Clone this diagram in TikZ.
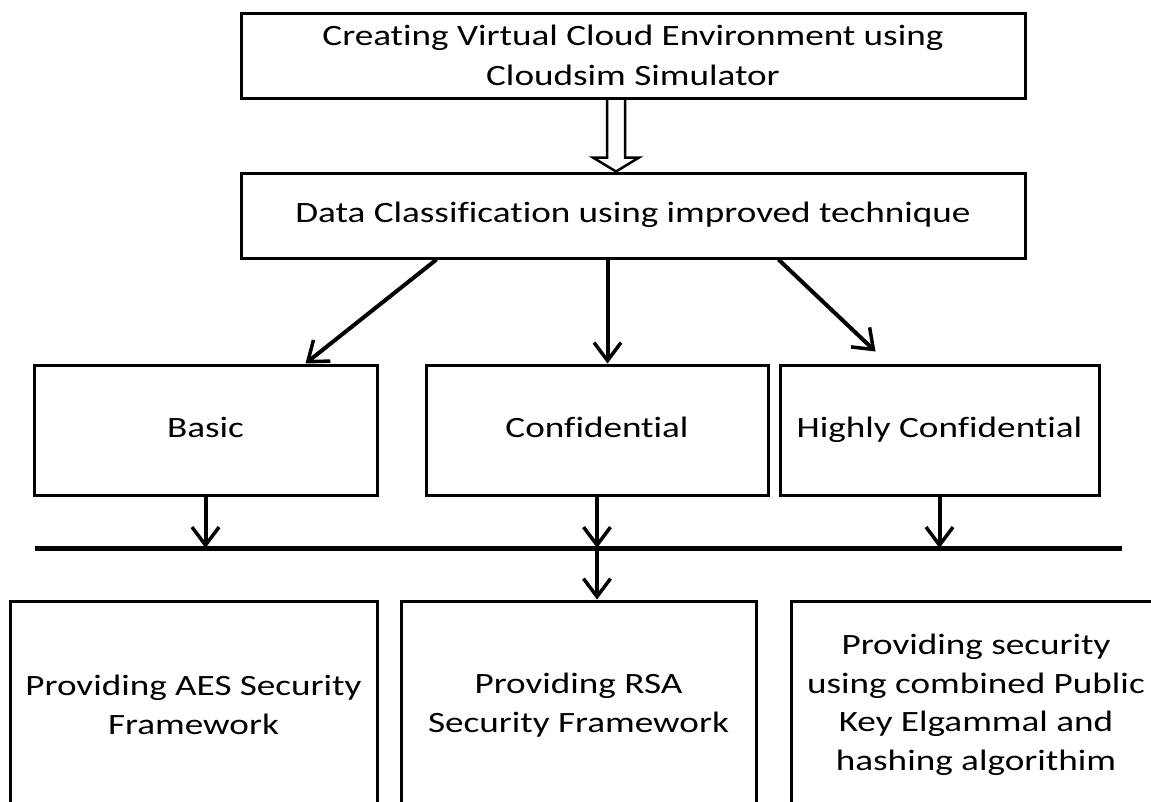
\documentclass[tikz,border=0pt]{standalone}
\usepackage{fontspec}
\setmainfont{Carlito}[FakeStretch=1.26,RawFeature=-liga]
\usetikzlibrary{arrows.meta,calc}
\begin{document}
\begin{tikzpicture}[x=1pt,y=-1pt,
  box/.style={draw, line width=3pt, inner sep=0pt, align=center, font=\fontsize{29.5}{38.5}\selectfont},
  oneline/.style={text height=20pt, text depth=6pt},
  arr/.style={line width=4pt, -{Straight Barb[length=18pt,width=27pt,line width=3.5pt]}},
  bus/.style={line width=5pt},
  hollow/.style={line width=2.5pt, line join=miter}]
\useasboundingbox (0,0) rectangle (1151,801);
\clip (0,0) rectangle (1151,801);
\fill[white] (0,0) rectangle (1151,801);
\node[box, minimum width=784pt, minimum height=85pt, font=\fontsize{29.5}{40}\selectfont] (create) at (633,55.5) {Creating Virtual Cloud Environment using\\Cloudsim Simulator};
\node[box, oneline, minimum width=784pt, minimum height=85pt] (classify) at (633,215.5) {Data Classification using improved technique};
\node[box, oneline, minimum width=343pt, minimum height=130pt] (basic) at (205.5,430) {Basic};
\node[box, oneline, minimum width=342pt, minimum height=130pt] (conf) at (597,430) {Confidential};
\node[box, oneline, minimum width=319pt, minimum height=130pt] (high) at (939.5,430) {Highly Confidential};
\node[box, minimum width=367pt, minimum height=208pt] (aes) at (193.5,705) {Providing AES Security\\Framework};
\node[box, minimum width=355pt, minimum height=208pt] (rsa) at (578.5,705) {Providing RSA\\Security Framework};
\node[box, minimum width=370pt, minimum height=208pt] (elg) at (976,705) {Providing security\\using combined Public\\Key Elgammal and\\hashing algorithim};
% hollow double arrow
\draw[hollow] ($(create.south)+(-26,0)$) -- ($(create.south)+(-26,58)$) -- ($(create.south)+(-40,58)$)
  -- ($(classify.north)+(-17,0)$) -- ($(create.south)+(6,58)$) -- ($(create.south)+(-8,58)$) -- ($(create.south)+(-8,0)$);
% arrows to categories
\draw[arr] ($(classify.south west)+(197,0)$) -- ($(basic.north west)+(273,0)$);
\draw[arr] ($(classify.south west)+(368,0)$) -- ($(conf.north west)+(183,0)$);
\draw[arr] ($(classify.south west)+(539,0)$) -- ($(high.north west)+(97,-12)$);
% bus
\coordinate (busL) at (35,548);
\coordinate (busR) at (1122,548);
\draw[bus] (busL) -- (busR);
\draw[arr] (basic.south) -- (basic.south |- busL);
\draw[arr] (conf.south) -- (conf.south |- busL);
\draw[arr] (high.south) -- (high.south |- busL);
\draw[arr] (conf.south |- busL) -- (conf.south |- rsa.north);
\end{tikzpicture}
\end{document}
